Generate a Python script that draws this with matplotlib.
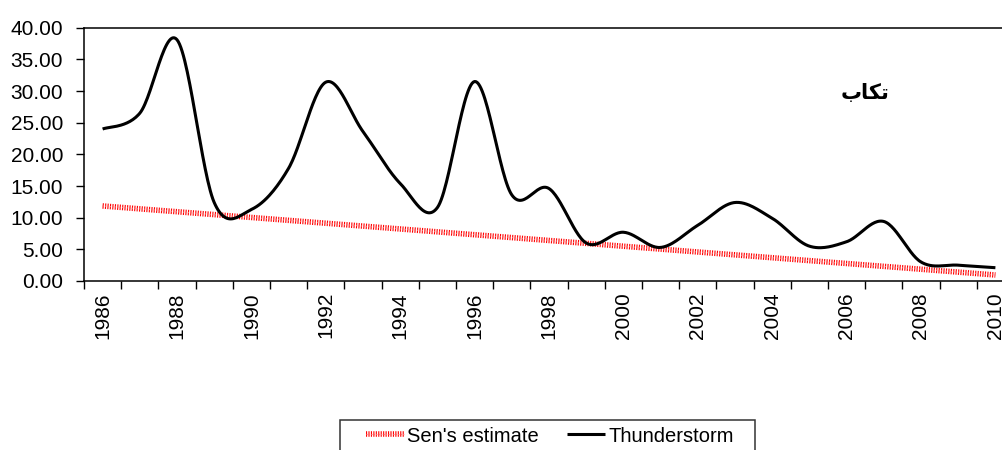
import numpy as np
import matplotlib
matplotlib.use("Agg")
import matplotlib.pyplot as plt
import matplotlib.patheffects as pe
from matplotlib.patches import Rectangle

# yearly thunderstorm counts and Sen's slope trend line
years = list(range(1986, 2011))
thunderstorm = [24.0, 26.5, 38.1, 12.4, 11.3, 17.8, 31.4, 23.6, 15.4, 11.6,
                31.5, 13.6, 14.6, 6.0, 7.7, 5.3, 8.8, 12.4, 9.9, 5.5,
                6.2, 9.4, 3.0, 2.5, 2.1]
sen_years = [1986, 2010]
sen_values = [11.85, 0.95]
yticks = [0, 5, 10, 15, 20, 25, 30, 35, 40]
station = "\uFE8F\uFE8E\uFB91\uFE97"   # "تکاب" in shaped visual order


def smooth(x, y, n=30):
    # Excel-like smoothed line: Catmull-Rom segments drawn as cubic Beziers
    x = np.asarray(x, float); y = np.asarray(y, float)
    px = np.concatenate([[x[0]], x, [x[-1]]])
    py = np.concatenate([[y[0]], y, [y[-1]]])
    t = np.linspace(0, 1, n)[:, None]
    xs, ys = [], []
    for i in range(1, len(px) - 2):
        b0 = np.array([px[i], py[i]])
        b3 = np.array([px[i + 1], py[i + 1]])
        b1 = b0 + (np.array([px[i + 1], py[i + 1]]) - np.array([px[i - 1], py[i - 1]])) / 6
        b2 = b3 - (np.array([px[i + 2], py[i + 2]]) - np.array([px[i], py[i]])) / 6
        pts = ((1 - t) ** 3) * b0 + 3 * ((1 - t) ** 2) * t * b1 + 3 * (1 - t) * t ** 2 * b2 + t ** 3 * b3
        xs.append(pts[:, 0]); ys.append(pts[:, 1])
    return np.concatenate(xs), np.concatenate(ys)


plt.rcParams["font.family"] = ["Liberation Sans", "DejaVu Sans"]
W, H = 1003, 450
fig = plt.figure(figsize=(W / 100, H / 100), dpi=100)
ax = fig.add_axes([84 / W, 169 / H, 930 / W, 253.3 / H])

idx = np.arange(len(years))
sen_idx = [years.index(v) for v in sen_years]
sen, = ax.plot(sen_idx, sen_values, color="#ff7070", lw=0.8, ls=(0, (1, 1.2)),
               label="Sen's estimate",
               path_effects=[pe.Stroke(linewidth=4.0, foreground="#ff0000"), pe.Normal()])
sx, sy = smooth(idx, thunderstorm)
th, = ax.plot(sx, sy, color="black", lw=2.2, label="Thunderstorm", solid_capstyle="butt")

ax.set_xlim(-0.5, len(years) - 0.5)
ax.set_ylim(0, 40)
ax.set_yticks(yticks)
ax.set_yticklabels([f"{v:.2f}" for v in yticks], fontsize=15)
ax.set_xticks(np.arange(-0.5, len(years), 1.0))
ax.set_xticklabels([])
ax.set_xticks(idx[::2], minor=True)
ax.set_xticklabels([str(y) for y in years[::2]], minor=True, rotation=90, fontsize=15)
ax.tick_params(axis="x", which="minor", length=0, pad=8)
ax.tick_params(axis="both", which="major", direction="out", length=6, width=1, color="black")
ax.tick_params(axis="y", pad=9)
for s in ["left", "bottom", "top"]:
    ax.spines[s].set_linewidth(1.1)
ax.spines["right"].set_visible(False)

ax.text(20.5, 29.7, station, family=["DejaVu Sans"], fontweight="bold", fontsize=15,
        ha="center", va="center")

fig.legend(handles=[sen, th], loc="center", bbox_to_anchor=(550 / W, 14 / H),
           ncol=2, frameon=False, fontsize=14.5, borderpad=0,
           handlelength=1.9, handletextpad=0.15, columnspacing=1.4)
fig.patches.append(Rectangle((340 / W, -10 / H), 415 / W, 40 / H, transform=fig.transFigure,
                             fill=False, edgecolor="#333333", lw=1.1))

fig.savefig("out.png", dpi=100)
